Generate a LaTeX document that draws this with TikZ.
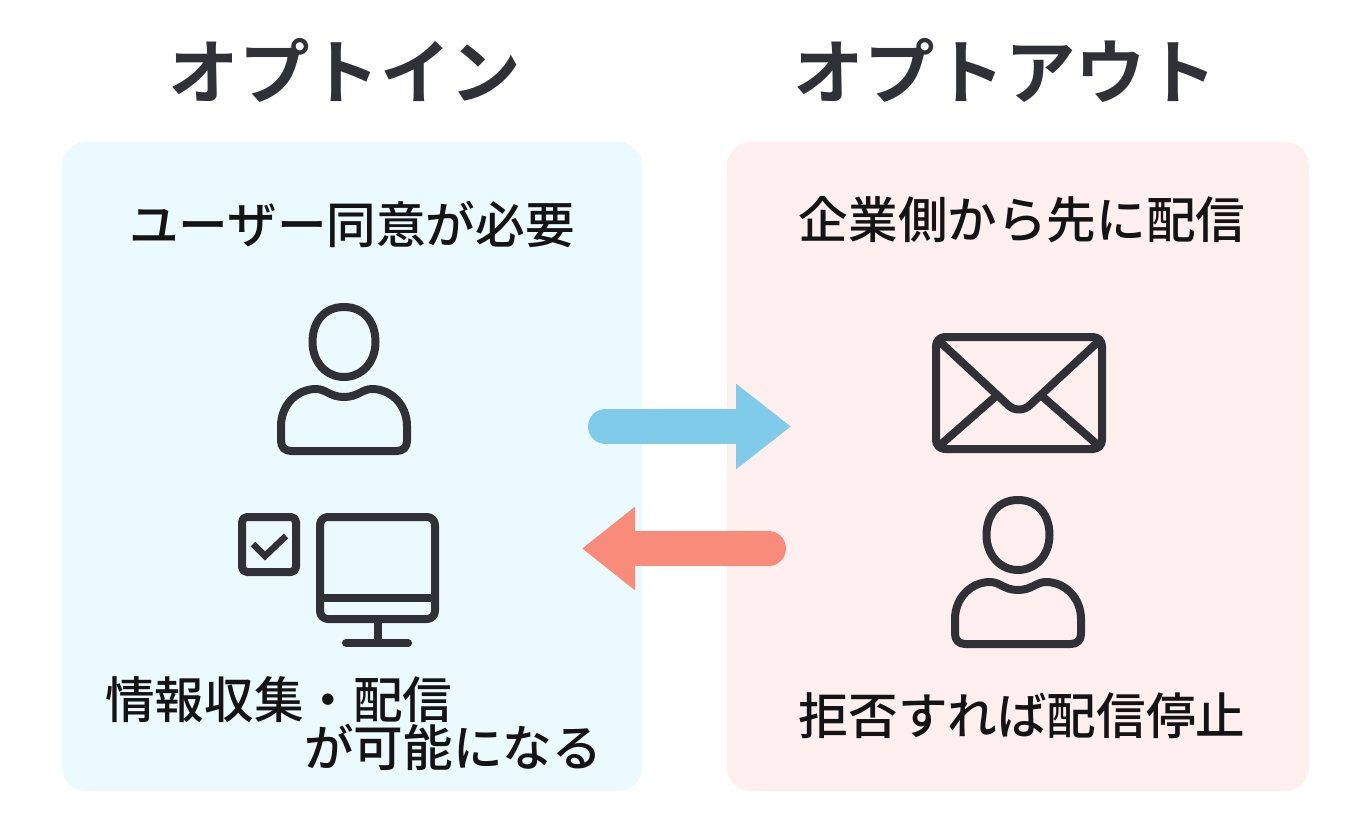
\documentclass[tikz,border=0pt]{standalone}
\usepackage{fontspec}
\usetikzlibrary{arrows.meta}
\setmainfont{Noto Sans CJK JP Medium}
\newfontfamily\jpbold{Noto Sans CJK JP Bold}
\definecolor{ink}{HTML}{303136}
\definecolor{bluepanel}{HTML}{EBFAFF}
\definecolor{redpanel}{HTML}{FFEFEF}
\definecolor{bluearrow}{HTML}{80CBEA}
\definecolor{redarrow}{HTML}{F98B7B}
\tikzset{
  x=1pt,y=-1pt,
  panel/.style={rounded corners=24pt,inner sep=0pt,outer sep=0pt,minimum width=#1,minimum height=649pt},
  icon/.style={draw=ink,line width=8pt,line join=round,line cap=round},
  title/.style={font=\jpbold\fontsize{70.5}{71}\selectfont,text=ink,inner sep=0pt},
  body/.style={font=\fontsize{49.6}{50}\selectfont,text=black!92,inner sep=0pt},
  arrowblue/.style={line width=35pt,line cap=round,draw=bluearrow,-{Triangle[length=55pt,width=82pt]}},
  arrowred/.style={line width=35pt,line cap=round,draw=redarrow,-{Triangle[length=53pt,width=80pt]}},
}
\newcommand{\personicon}[2]{%
  \begin{scope}[shift={(#1,#2)}]
    \draw[icon] (0,-35) .. controls (20,-35) and (31.5,-20) .. (31.5,0)
      .. controls (31.5,20) and (18,35) .. (0,35)
      .. controls (-18,35) and (-31.5,20) .. (-31.5,0)
      .. controls (-31.5,-20) and (-20,-35) .. (0,-35) -- cycle;
    \draw[icon] (-53,109) .. controls (-59,109) and (-63,105) .. (-63,99)
      -- (-63,84)
      .. controls (-63,63) and (-47,47) .. (-28,47)
      .. controls (-18,47) and (-14,55) .. (0,55)
      .. controls (14,55) and (18,47) .. (28,47)
      .. controls (47,47) and (63,63) .. (63,84)
      -- (63,99)
      .. controls (63,105) and (59,109) .. (53,109) -- cycle;
  \end{scope}}
\begin{document}
\begin{tikzpicture}
\useasboundingbox (0,0) rectangle (1366,821);
\fill[white] (0,0) rectangle (1366,821);
\node[panel=580pt,fill=bluepanel] (optin) at (352,466.5) {};
\node[panel=582pt,fill=redpanel] (optout) at (1018,466.5) {};

\node[title] (t1) at (345,70) {オプトイン};
\node[title] (t2) at (1005,70) {オプトアウト};
\node[body] (a1) at (352,224) {ユーザー同意が必要};
\node[body] (b1) at (1022,220) {企業側から先に配信};
\node[body,anchor=west] (a2) at (105,700) {情報収集・配信};
\node[body,anchor=west] (a3) at (304,747) {が可能になる};
\node[body] (b2) at (1022,716) {拒否すれば配信停止};

\personicon{344}{342}
\personicon{1018}{535}

% monitor
\draw[icon] (328,517) -- (427,517) arc[start angle=-90,end angle=0,radius=8] -- (435,611)
  arc[start angle=0,end angle=90,radius=8] -- (328,619)
  arc[start angle=90,end angle=180,radius=8] -- (320,525)
  arc[start angle=180,end angle=270,radius=8] -- cycle;
\draw[icon,line cap=butt] (320,598) -- (435,598);
\draw[icon,line cap=butt] (378,619) -- (378,643);
\draw[icon] (346,643) -- (408,643);

% checkbox
\draw[icon,rounded corners=5pt] (242,517) rectangle (296,572);
\draw[icon,line width=6.5pt,line cap=butt,line join=miter] (253,544) -- (265,556) -- (286,536);

% envelope
\draw[icon,rounded corners=9pt] (936,337) rectangle (1102,449);
\draw[icon,line cap=butt] (938,340) -- (1008,405)
  .. controls (1014,411) and (1024,411) .. (1030,405) -- (1100,340);
\draw[icon,line cap=butt] (938,447) -- (995,397);
\draw[icon,line cap=butt] (1100,447) -- (1043,397);

% arrows
\coordinate (blueS) at (605.5,426.5);
\coordinate (blueE) at (791,426.5);
\coordinate (redS) at (768.5,548.5);
\coordinate (redE) at (582,548.5);
\draw[arrowblue] (blueS) -- (blueE);
\draw[arrowred] (redS) -- (redE);
\end{tikzpicture}
\end{document}
